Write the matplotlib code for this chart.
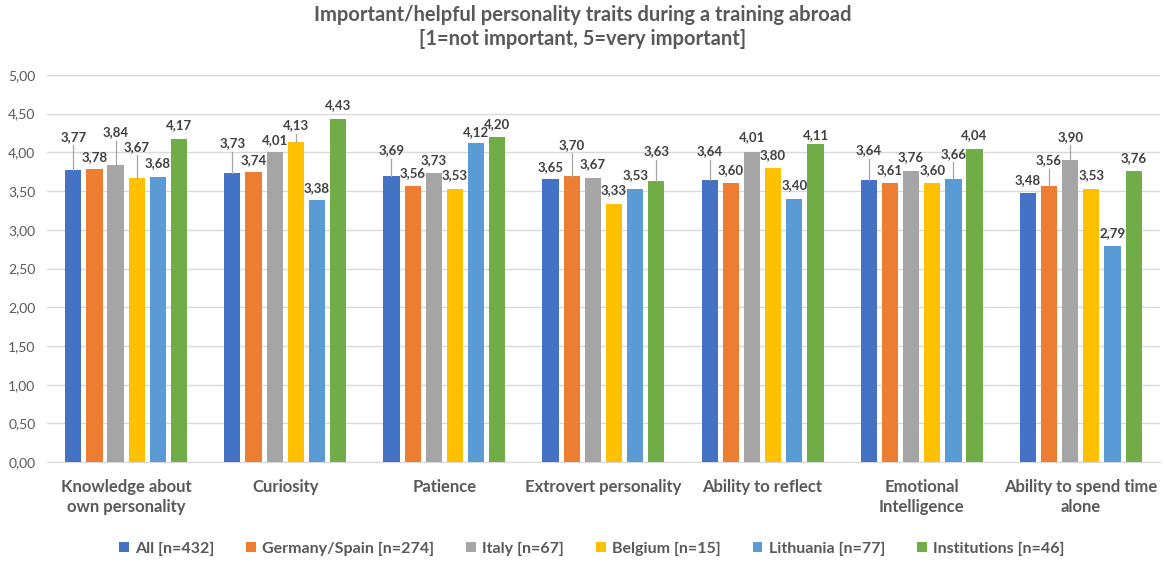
import numpy as np
import matplotlib.pyplot as plt

plt.rcParams['font.family'] = ['Lato', 'DejaVu Sans']

categories = ['Knowledge about\nown personality', 'Curiosity', 'Patience', 'Extrovert personality',
              'Ability to reflect', 'Emotional\nIntelligence', 'Ability to spend time\nalone']
series = ['All [n=432]', 'Germany/Spain [n=274]', 'Italy [n=67]', 'Belgium [n=15]',
          'Lithuania [n=77]', 'Institutions [n=46]']
colors = ['#4472c4', '#ed7d31', '#a5a5a5', '#ffc000', '#5b9bd5', '#70ad47']

all_ = [3.77, 3.73, 3.69, 3.65, 3.64, 3.64, 3.48]
germany_spain = [3.78, 3.74, 3.56, 3.70, 3.60, 3.61, 3.56]
italy = [3.84, 4.01, 3.73, 3.67, 4.01, 3.76, 3.90]
belgium = [3.67, 4.13, 3.53, 3.33, 3.80, 3.60, 3.53]
lithuania = [3.68, 3.38, 4.12, 3.53, 3.40, 3.66, 2.79]
institutions = [4.17, 4.43, 4.20, 3.63, 4.11, 4.04, 3.76]
values = [all_, germany_spain, italy, belgium, lithuania, institutions]

# label heights (data units) as placed in the original chart
label_y = [
    [4.20, 4.12, 4.03, 3.81, 4.01, 4.03, 3.64],
    [3.94, 3.90, 3.73, 4.10, 3.77, 3.77, 3.90],
    [4.26, 4.16, 3.90, 3.85, 4.20, 3.94, 4.20],
    [4.07, 4.35, 3.71, 3.51, 3.97, 3.77, 3.71],
    [3.86, 3.54, 4.26, 3.71, 3.58, 3.98, 2.96],
    [4.35, 4.61, 4.37, 4.01, 4.22, 4.22, 3.93],
]

fig = plt.figure(figsize=(11.65, 5.63), dpi=100)
ax = fig.add_axes([0.040, 0.179, 0.956, 0.688])

x = np.arange(len(categories))
pitch = 0.133
width = 0.102
txt = '#404040'
for i, (name, vals, c) in enumerate(zip(series, values, colors)):
    xs = x + (i - 2.5) * pitch
    ax.bar(xs, vals, width, color=c, label=name, zorder=3)
    for xi, v, ly in zip(xs, vals, label_y[i]):
        ax.text(xi, ly, f'{v:.2f}'.replace('.', ','), ha='center', va='center',
                fontsize=9.5, fontweight='bold', color=txt, zorder=5)
        if ly - v > 0.2:
            ax.plot([xi, xi], [v, ly - 0.11], color='#a6a6a6', lw=0.9, zorder=4)

ax.set_ylim(0, 5)
ax.set_xlim(-0.5, len(categories) - 0.5)
ticks = np.arange(0, 5.01, 0.5)
ax.set_yticks(ticks)
ax.set_yticklabels([f'{t:.2f}'.replace('.', ',') for t in ticks])
ax.tick_params(axis='y', length=0, labelsize=10, labelcolor='#595959', pad=8)
ax.set_xticks(x)
ax.set_xticklabels(categories, fontsize=12, fontweight='bold', color='#595959', linespacing=1.3)
ax.tick_params(axis='x', length=0, pad=12)
ax.grid(axis='y', color='#d9d9d9', lw=1, zorder=0)
for s in ['top', 'right', 'left']:
    ax.spines[s].set_visible(False)
ax.spines['bottom'].set_color('#d9d9d9')

fig.suptitle('Important/helpful personality traits during a training abroad\n[1=not important, 5=very important]',
             x=0.5, y=0.992, fontsize=14.5, fontweight='bold', color='#595959', linespacing=1.3)

leg = fig.legend(loc='center', bbox_to_anchor=(0.508, 0.025), ncol=6, frameon=False,
                 fontsize=11.5, handlelength=0.6, handleheight=0.6, handletextpad=0.4, columnspacing=2.0)
for t in leg.get_texts():
    t.set_color('#595959')
    t.set_fontweight('bold')

fig.savefig('out.png', dpi=100)
